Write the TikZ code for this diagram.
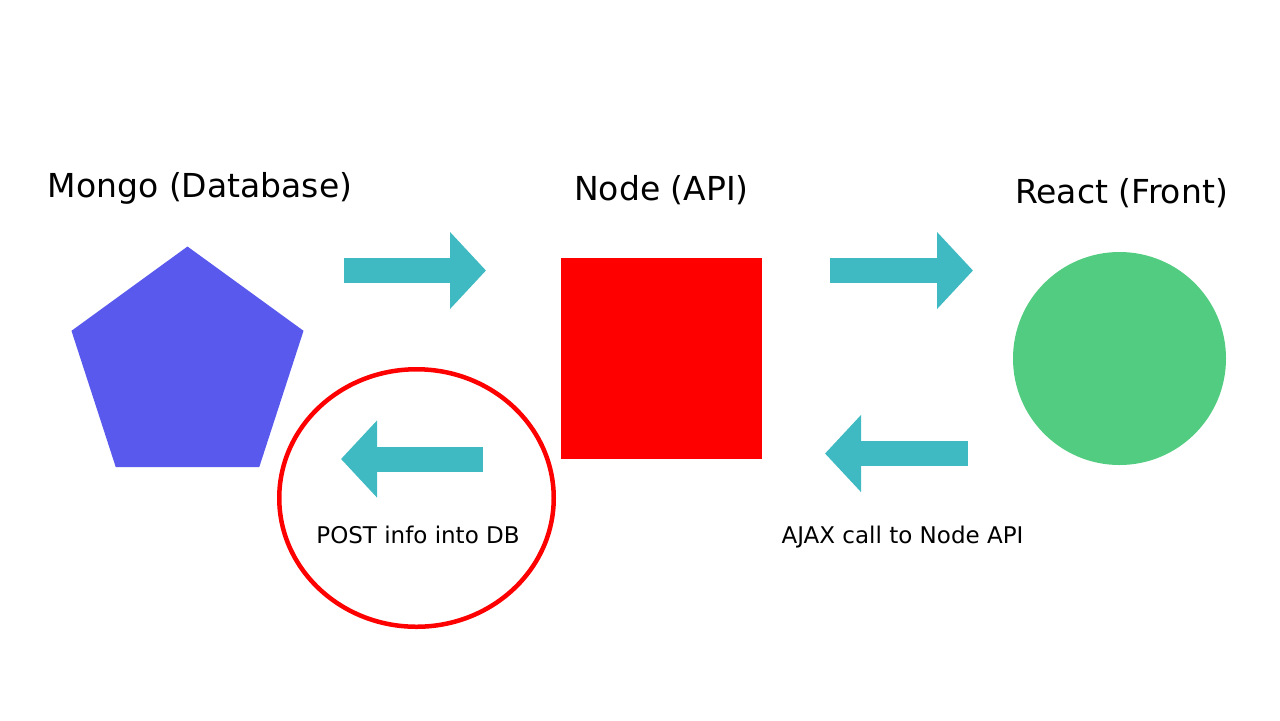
\documentclass[tikz,border=0pt]{standalone}
\usepackage{fontspec}
\setmainfont{DejaVu Sans}
\usetikzlibrary{shapes.geometric}
\usetikzlibrary{arrows.meta}

\definecolor{mongoblue}{RGB}{89,89,238}
\definecolor{reactgreen}{RGB}{82,204,128}
\definecolor{flowteal}{RGB}{64,186,194}

\begin{document}
\begin{tikzpicture}[x=0.5pt,y=-0.5pt,
  title/.style={font=\fontsize{16.5}{20}\selectfont,anchor=base},
  caption/.style={font=\fontsize{11.5}{14}\selectfont,anchor=base},
  flow/.style={flowteal,line width=12.5pt,-{Triangle[length=18pt,width=37.5pt]}}]
\useasboundingbox (0,0) rectangle (1280,720);

% the three parts
\node[regular polygon,regular polygon sides=5,fill=mongoblue,minimum size=122pt,inner sep=0pt] (mongo) at (187.5,368.5) {};
\node[fill=red,minimum size=100.5pt,inner sep=0pt] (api) at (661.5,358.5) {};
\node[circle,fill=reactgreen,minimum size=106.5pt,inner sep=0pt] (react) at (1119.5,358.5) {};
\node[ellipse,draw=red,line width=2.25pt,minimum width=137.25pt,minimum height=128.75pt,inner sep=0pt] (post) at (416.5,498) {};

% titles and captions
\node[title] (mongotitle) at (200,197) {Mongo (Database)};
\node[title] (apititle) at (661.5,200) {Node (API)};
\node[title] (reacttitle) at (1121.5,203) {React (Front)};
\node[caption] (postlabel) at (418,543) {POST info into DB};
\node[caption] (ajaxlabel) at (902.5,543) {AJAX call to Node API};

% block arrows
\coordinate (dbout) at (344,270.5);
\coordinate (apiin) at (486,270.5);
\coordinate (apiout) at (830,270.5);
\coordinate (frontin) at (973,270.5);
\coordinate (postfrom) at (483,459);
\coordinate (postto) at (341,459);
\coordinate (ajaxfrom) at (968,453.5);
\coordinate (ajaxto) at (825,453.5);
\draw[flow] (dbout) -- (apiin);
\draw[flow] (apiout) -- (frontin);
\draw[flow] (postfrom) -- (postto);
\draw[flow] (ajaxfrom) -- (ajaxto);
\end{tikzpicture}
\end{document}
